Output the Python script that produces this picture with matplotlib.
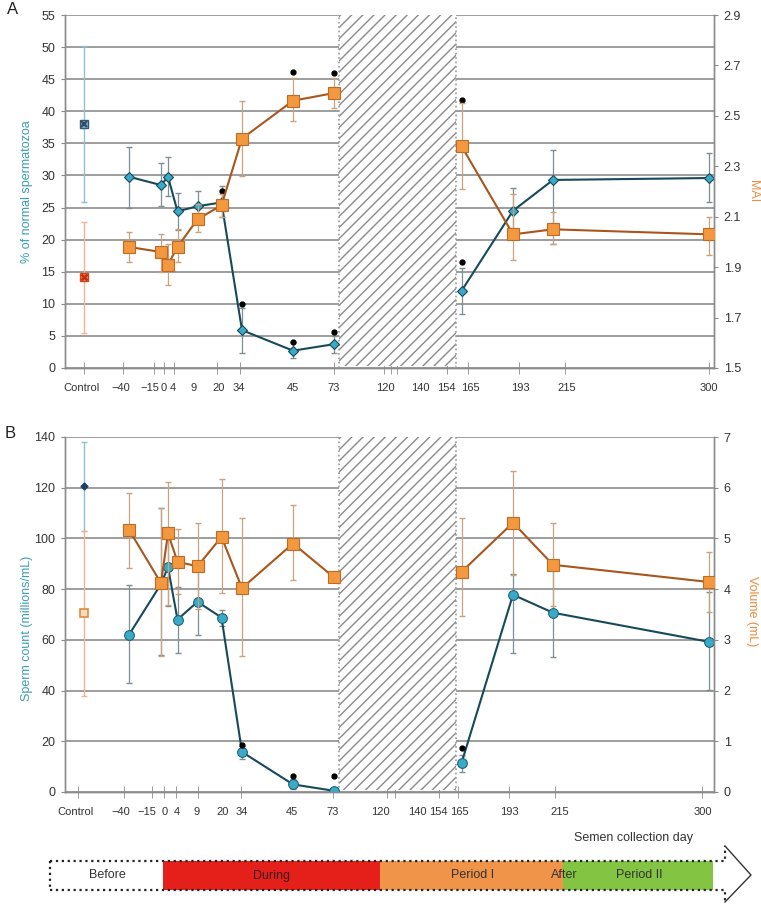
import numpy as np
import matplotlib.pyplot as plt
from matplotlib.patches import Rectangle

plt.rcParams['font.family'] = ['Liberation Sans', 'DejaVu Sans']
plt.rcParams['hatch.linewidth'] = 1.0

# 数据：采样日
days = [-40, -15, 0, 4, 9, 20, 34, 45, 73, 165, 193, 215, 300]
n_pre = 9  # 前9个点在停药前（折线在阴影区断开）

# A: 正常精子百分比 (左轴) 与 MAI (右轴)
normal = [29.8, 28.5, 29.8, 24.4, 25.2, 25.8, 5.9, 2.7, 3.7, 12.0, 24.5, 29.3, 29.6]
normal_lo = [25.0, 25.2, 26.8, 21.5, 23.0, 23.5, 2.4, 1.5, 2.3, 8.4, 21.0, 19.3, 25.9]
normal_hi = [34.5, 32.0, 32.8, 27.3, 27.5, 28.3, 9.3, 4.0, 5.0, 15.6, 28.0, 34.0, 33.5]
mai = [1.98, 1.96, 1.91, 1.98, 2.09, 2.145, 2.41, 2.56, 2.59, 2.38, 2.03, 2.05, 2.03]
mai_lo = [1.92, 1.88, 1.83, 1.92, 2.04, 2.10, 2.26, 2.48, 2.53, 2.21, 1.93, 1.99, 1.95]
mai_hi = [2.04, 2.03, 1.99, 2.05, 2.15, 2.19, 2.56, 2.65, 2.65, 2.55, 2.19, 2.12, 2.10]
ctrl_normal, ctrl_normal_lo, ctrl_normal_hi = 38.0, 25.8, 50.2
ctrl_mai, ctrl_mai_lo, ctrl_mai_hi = 1.86, 1.64, 2.08
sig_a_days = [20, 34, 45, 45, 73, 73, 165, 165]
sig_a_y = [27.6, 10.0, 46.1, 4.0, 46.0, 5.6, 41.7, 16.5]

# B: 精子计数 (左轴) 与 精液体积 (右轴)
count = [62, 82, 88.7, 68, 75, 68.8, 15.8, 3, 0.5, 11.4, 77.8, 70.7, 59.2]
count_lo = [43, 54, 73.5, 55, 62, 65.5, 13, 1, 0, 8, 55, 53.3, 40.3]
count_hi = [81.5, 112, 104, 81, 88, 71.8, 18, 5, 1.5, 14.5, 86, 88, 79]
vol = [5.17, 4.12, 5.1, 4.54, 4.45, 5.03, 4.02, 4.9, 4.24, 4.34, 5.31, 4.48, 4.14]
vol_lo = [4.42, 2.68, 3.68, 3.9, 3.6, 3.93, 2.69, 4.19, 4.24, 3.47, 4.28, 3.66, 3.55]
vol_hi = [5.9, 5.6, 6.12, 5.19, 5.3, 6.17, 5.4, 5.65, 4.24, 5.41, 6.33, 5.31, 4.74]
ctrl_count, ctrl_count_lo, ctrl_count_hi = 120.5, 103, 138
ctrl_vol, ctrl_vol_lo, ctrl_vol_hi = 3.52, 1.9, 5.15
sig_b_days = [34, 45, 73, 165]
sig_b_y = [18.5, 6.5, 6.3, 17.4]

# x轴刻度（非线性，按原图位置排布）
tick_days = [-40, -15, 0, 4, 9, 20, 34, 45, 73, 120, 140, 154, 165, 193, 215, 300]
tick_labels = ['Control', '\u221240', '\u221215', '0', '4', '9', '20', '34', '45', '73',
               '120', '140', '154', '165', '193', '215', '300']
phases = ['Before', 'During', 'Period I', 'Period II']
phase_colors = ['white', '#e5201a', '#ef9449', '#84c443']

# 版式（原图x轴是按像素手工排布的）
marker_pos = [129, 161, 168, 177.5, 197.5, 221.5, 242, 293, 333.5, 383, 419, 445, 461.5, 513, 553, 709.3]
ctrl_pos = 84
hatch_span = (339, 456)
XLIM = (65, 714)
# 每个面板刻度线与标签位置略有不同
marks_a = [84.3, 122.7, 154.3, 164, 174, 193.3, 217.3, 240, 293.3, 334, 384, 390.7, 397.3,
           420, 446.7, 468.3, 519, 565, 709.3]
labels_a = [81.3, 120.7, 149.7, 163.7, 173.3, 193.3, 218.3, 238.8, 293.3, 333.3, 385, 420,
            446.3, 470.8, 520, 566.7, 709]
marks_b = [78.3, 124, 151.7, 164, 175.7, 198.3, 222.7, 240.7, 292.3, 332.7, 380, 387.3, 395,
           417.3, 439, 458.3, 509, 555, 701.7]
labels_b = [75, 120.8, 147.3, 165, 177.3, 196.7, 222.7, 241.7, 292.3, 332.3, 380, 417.3,
            438.8, 459, 509.3, 560, 703.3]


def xpos(d):
    return np.interp(d, tick_days, marker_pos)


BLUE_LINE = '#17495a'
BLUE_FACE = '#3aaac6'
ORANGE_LINE = '#a8561c'
ORANGE_FACE = '#f2993f'
GRID = '#8c8c8c'
TXT = '#333333'


def style_axes(ax, ax2, ylim, yticks, ylim2, yticks2, fmt2, marks, labels):
    ax.set_xlim(*XLIM)
    ax.set_ylim(*ylim)
    ax.set_yticks(yticks)
    ax2.set_ylim(*ylim2)
    ax2.set_yticks(yticks2)
    ax2.set_yticklabels([fmt2.format(v) for v in yticks2])
    ax.yaxis.grid(True, color=GRID, lw=1.2)
    ax.set_axisbelow(True)
    for a in (ax, ax2):
        a.spines['top'].set_visible(False)
        for s in ('left', 'right', 'bottom'):
            a.spines[s].set_color(GRID)
            a.spines[s].set_linewidth(1.0)
    ax.set_xticks(labels)
    ax.set_xticklabels(tick_labels)
    ax.set_xticks(marks, minor=True)
    ax.tick_params(axis='x', which='major', length=0, labelsize=8, labelcolor=TXT, pad=11)
    ax.tick_params(axis='x', which='minor', direction='inout', length=8, color=GRID)
    ax.tick_params(axis='y', length=3, color=GRID, labelsize=9, labelcolor=TXT, pad=4)
    ax2.tick_params(axis='y', length=3, color=GRID, labelsize=9, labelcolor=TXT, pad=4)
    # 阴影区（停药期间无数据）
    ax.fill_between(hatch_span, ylim[0] + (ylim[1] - ylim[0]) * 0.006, ylim[1],
                    facecolor='white', edgecolor='#8a8a8a', hatch='///', lw=0, zorder=2)
    ax.vlines(hatch_span, ylim[0], ylim[1], colors='#9a9a9a', linestyles=':', lw=1.2, zorder=3)


fig = plt.figure(figsize=(7.61, 9.07), dpi=100)

x_days = xpos(days)

# ---------------- A ----------------
axA = fig.add_axes([65 / 761, 1 - 368 / 907, (714 - 65) / 761, (368 - 15) / 907])
axA2 = axA.twinx()
style_axes(axA, axA2, (0, 55), np.arange(0, 56, 5), (1.5, 2.9), np.arange(1.5, 2.95, 0.2), '{:.1f}',
           marks_a, labels_a)

nm = np.array(normal)
axA.errorbar(x_days, nm, yerr=[nm - np.array(normal_lo), np.array(normal_hi) - nm],
             fmt='none', ecolor='#7f8e93', elinewidth=0.9, capsize=2, zorder=4)
axA.errorbar([ctrl_pos], [ctrl_normal], yerr=[[ctrl_normal - ctrl_normal_lo], [ctrl_normal_hi - ctrl_normal]],
             fmt='none', ecolor='#8ebfd2', elinewidth=1.0, capsize=2, zorder=4)
for sl in (slice(0, n_pre), slice(n_pre, None)):
    axA.plot(x_days[sl], nm[sl], color=BLUE_LINE, lw=1.5, marker='D', ms=5.5,
             mfc=BLUE_FACE, mec=BLUE_LINE, mew=0.8, zorder=5)
axA.plot([ctrl_pos], [ctrl_normal], marker='s', ms=6, mfc='#8fb0c8', mec='#2f5a78', zorder=5)
axA.plot([ctrl_pos], [ctrl_normal], marker='x', ms=5, mec='#2f4a66', mew=1.5, zorder=6)
axA.plot(xpos(sig_a_days), sig_a_y, 'o', color='black', ms=3.5, zorder=6)

mi = np.array(mai)
axA2.errorbar(x_days, mi, yerr=[mi - np.array(mai_lo), np.array(mai_hi) - mi],
              fmt='none', ecolor='#c9a27e', elinewidth=0.9, capsize=2, zorder=4)
axA2.errorbar([ctrl_pos], [ctrl_mai], yerr=[[ctrl_mai - ctrl_mai_lo], [ctrl_mai_hi - ctrl_mai]],
              fmt='none', ecolor='#f3b392', elinewidth=1.0, capsize=2, zorder=4)
for sl in (slice(0, n_pre), slice(n_pre, None)):
    axA2.plot(x_days[sl], mi[sl], color=ORANGE_LINE, lw=1.5, marker='s', ms=8,
              mfc=ORANGE_FACE, mec='#c06a25', mew=0.8, zorder=5)
axA2.plot([ctrl_pos], [ctrl_mai], marker='s', ms=6, mfc='#f08a3c', mec='#c05020', zorder=5)
axA2.plot([ctrl_pos], [ctrl_mai], marker='x', ms=5, mec='#d02a10', mew=1.8, zorder=6)

axA.set_ylabel('% of normal spermatozoa', color='#3a9cb6', fontsize=9)
axA.yaxis.set_label_coords(-0.05, 0.5)
axA2.set_ylabel('MAI', color='#f08a3c', fontsize=9, rotation=-90, va='center')
axA2.yaxis.set_label_coords(1.06, 0.5)

# ---------------- B ----------------
axB = fig.add_axes([65 / 761, 1 - 792 / 907, (714 - 65) / 761, (792 - 437) / 907])
axB2 = axB.twinx()
style_axes(axB, axB2, (0, 140), np.arange(0, 141, 20), (0, 7), np.arange(0, 8, 1), '{:.0f}',
           marks_b, labels_b)

ct = np.array(count)
axB.errorbar(x_days, ct, yerr=[ct - np.array(count_lo), np.array(count_hi) - ct],
             fmt='none', ecolor='#7f8e93', elinewidth=0.9, capsize=2, zorder=4)
axB.errorbar([ctrl_pos], [ctrl_count], yerr=[[ctrl_count - ctrl_count_lo], [ctrl_count_hi - ctrl_count]],
             fmt='none', ecolor='#8ebfd2', elinewidth=1.0, capsize=2, zorder=4)
for sl in (slice(0, n_pre), slice(n_pre, None)):
    axB.plot(x_days[sl], ct[sl], color=BLUE_LINE, lw=1.5, marker='o', ms=7,
             mfc=BLUE_FACE, mec='#1f6478', mew=0.8, zorder=5)
axB.plot([ctrl_pos], [ctrl_count], marker='D', ms=3.5, mfc='#1d3f66', mec='#1d3f66', zorder=5)
axB.plot(xpos(sig_b_days), sig_b_y, 'o', color='black', ms=3.5, zorder=6)

vl = np.array(vol)
axB2.errorbar(x_days, vl, yerr=[vl - np.array(vol_lo), np.array(vol_hi) - vl],
              fmt='none', ecolor='#c9a27e', elinewidth=0.9, capsize=2, zorder=4)
axB2.errorbar([ctrl_pos], [ctrl_vol], yerr=[[ctrl_vol - ctrl_vol_lo], [ctrl_vol_hi - ctrl_vol]],
              fmt='none', ecolor='#f3b392', elinewidth=1.0, capsize=2, zorder=4)
for sl in (slice(0, n_pre), slice(n_pre, None)):
    axB2.plot(x_days[sl], vl[sl], color=ORANGE_LINE, lw=1.5, marker='s', ms=8,
              mfc=ORANGE_FACE, mec='#c06a25', mew=0.8, zorder=5)
axB2.plot([ctrl_pos], [ctrl_vol], marker='s', ms=6, mfc='#f6dcc0', mec='#e08a40', mew=1.2, zorder=5)

axB.set_ylabel('Sperm count (millions/mL)', color='#3a9cb6', fontsize=9)
axB.yaxis.set_label_coords(-0.05, 0.46)
axB2.set_ylabel('Volume (mL)', color='#f08a3c', fontsize=9, rotation=-90, va='center')
axB2.yaxis.set_label_coords(1.058, 0.51)

fig.text(7 / 761, 1 - 9 / 907, 'A', fontsize=12, color='#222222', ha='left', va='center')
fig.text(5 / 761, 1 - 433 / 907, 'B', fontsize=12, color='#222222', ha='left', va='center')

# ---------------- 底部时间箭头 ----------------
ov = fig.add_axes([0, 0, 1, 1], facecolor='none')
ov.set_xlim(0, 761)
ov.set_ylim(907, 0)
ov.axis('off')
bar_top, bar_bot = 861, 890
bounds = [50, 163, 380, 563, 713]
for i, name in enumerate(phases):
    ov.add_patch(Rectangle((bounds[i], bar_top), bounds[i + 1] - bounds[i], bar_bot - bar_top,
                           facecolor=phase_colors[i], edgecolor='none', zorder=1))
label_x = [107, 272, 473, 639]
for name, lx in zip(phases, label_x):
    ov.text(lx, (bar_top + bar_bot) / 2, name, ha='center', va='center', fontsize=9,
            color='#3a1a1a' if name == 'During' else TXT, zorder=3)
ov.text(564, (bar_top + bar_bot) / 2, 'After', ha='center', va='center', fontsize=9, color=TXT, zorder=3)
# 虚线外框 + 箭头
ov.plot([50, 725, 725], [bar_top, bar_top, 846], ls=':', color='#222222', lw=1.6, zorder=2)
ov.plot([50, 725, 725], [bar_bot, bar_bot, 902], ls=':', color='#222222', lw=1.6, zorder=2)
ov.plot([50, 50], [bar_top, bar_bot], ls=':', color='#222222', lw=1.6, zorder=2)
ov.plot([725, 751, 725], [846, 875, 902], color='#333333', lw=1.0, zorder=2)
ov.text(633, 838, 'Semen collection day', ha='center', va='center', fontsize=9, color=TXT)

fig.savefig('out.png', dpi=100)
